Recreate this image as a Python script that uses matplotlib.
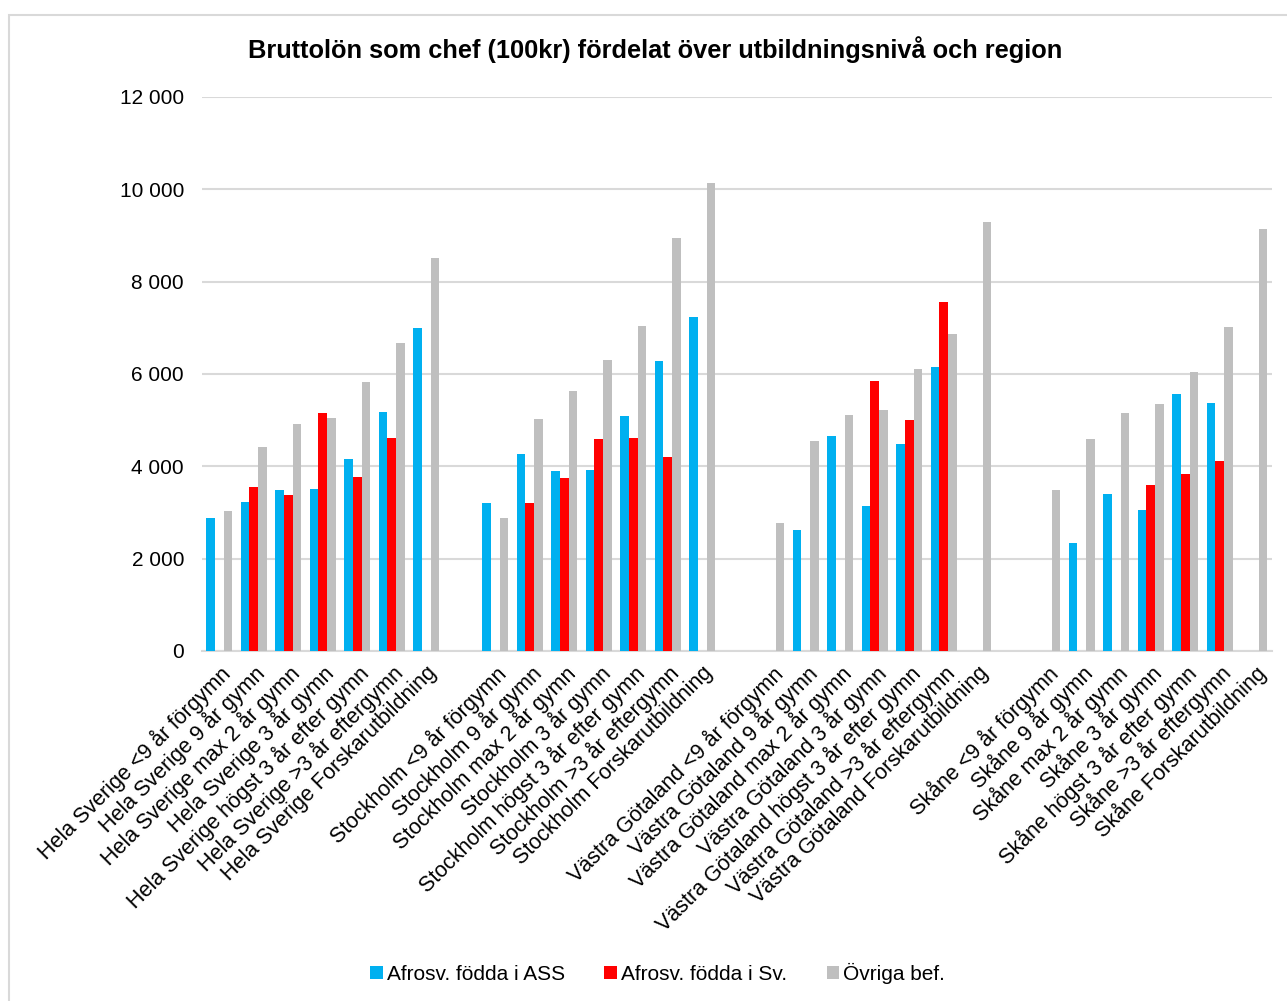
import matplotlib
matplotlib.use("Agg")
import matplotlib.pyplot as plt
import numpy as np
from matplotlib.patches import Rectangle

plt.rcParams['font.family'] = ['Liberation Sans', 'DejaVu Sans']

regions = ['Hela Sverige', 'Stockholm', 'Västra Götaland', 'Skåne']
levels = ['<9 år förgymn', '9 år gymn', 'max 2 år gymn', '3 år gymn',
          'högst 3 år efter gymn', '>3 år eftergymn', 'Forskarutbildning']

nan = np.nan
# one list per region, 7 education levels each
ass = [
    [2880, 3230, 3480, 3510, 4160, 5180, 7000],
    [3200, 4270, 3890, 3920, 5100, 6280, 7240],
    [nan, 2630, 4650, 3150, 4490, 6150, nan],
    [nan, 2340, 3400, 3060, 5560, 5370, nan],
]
sv = [
    [nan, 3550, 3380, 5150, 3760, 4610, nan],
    [nan, 3200, 3740, 4590, 4610, 4200, nan],
    [nan, nan, nan, 5840, 5010, 7560, nan],
    [nan, nan, nan, 3590, 3830, 4120, nan],
]
ovriga = [
    [3030, 4420, 4920, 5050, 5830, 6680, 8520],
    [2870, 5020, 5630, 6310, 7050, 8940, 10140],
    [2770, 4540, 5110, 5210, 6110, 6860, 9290],
    [3480, 4590, 5150, 5360, 6040, 7010, 9150],
]

series_names = ['Afrosv. födda i ASS', 'Afrosv. födda i Sv.', 'Övriga bef.']
colors = ['#00B0F0', '#FF0000', '#BFBFBF']

# build category axis with one empty slot between regions
labels = []
vals = [[], [], []]
for i, reg in enumerate(regions):
    if i > 0:
        labels.append('')
        for v in vals:
            v.append(nan)
    for j, lev in enumerate(levels):
        labels.append(f'{reg} {lev}')
        vals[0].append(ass[i][j])
        vals[1].append(sv[i][j])
        vals[2].append(ovriga[i][j])

x = np.arange(len(labels))
w = 0.25

fig = plt.figure(figsize=(12.87, 10.01), dpi=100)
ax = fig.add_axes([0.157, 0.3497, 0.831, 0.5534])

for k in range(3):
    ax.bar(x + (k - 1) * w, vals[k], width=w, color=colors[k], label=series_names[k], zorder=3)

ax.set_xlim(-0.5, len(labels) - 0.5)
ax.set_ylim(0, 12000)
ax.set_yticks(np.arange(0, 12001, 2000))
ax.set_yticklabels([f'{int(t):,}'.replace(',', ' ') for t in np.arange(0, 12001, 2000)], fontsize=15)
ax.yaxis.grid(True, color='#D9D9D9', linewidth=1.5, zorder=0)
ax.tick_params(axis='y', length=0, pad=13)
ax.tick_params(axis='x', length=0, pad=8)
ax.set_xticks(x)
ax.set_xticklabels(labels, rotation=45, ha='right', rotation_mode='anchor', fontsize=15.5)
for s in ['top', 'right', 'left']:
    ax.spines[s].set_visible(False)
ax.spines['bottom'].set_color('#D9D9D9')
ax.spines['bottom'].set_linewidth(1.5)

fig.text(0.509, 0.95, 'Bruttolön som chef (100kr) fördelat över utbildningsnivå och region',
         ha='center', va='center', fontsize=18.3, fontweight='bold')

fig.legend(loc='center', bbox_to_anchor=(0.511, 0.028), ncol=3, frameon=False, fontsize=15,
           handlelength=0.6, handleheight=0.6, handletextpad=0.2, columnspacing=1.9)

fig.patches.append(Rectangle((9 / 1287, -0.1), 1.2, 1.1 - 15 / 1001, transform=fig.transFigure,
                             fill=False, edgecolor='#D9D9D9', linewidth=1.5))

fig.savefig('out.png', dpi=100)
